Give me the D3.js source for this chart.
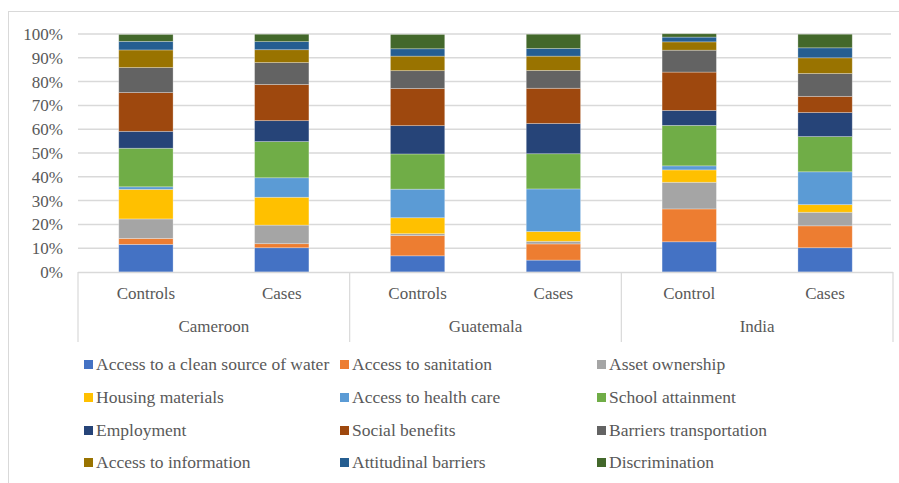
<!DOCTYPE html>
<html><head><meta charset="utf-8">
<script src="https://cdn.jsdelivr.net/npm/d3@7"></script>
<style>body{margin:0;background:#fff}svg{display:block}</style>
</head><body>
<script>
const countries = ["Cameroon","Guatemala","India"];
const groups = ["Controls","Cases","Controls","Cases","Control","Cases"];
const seriesNames = ["Access to a clean source of water","Access to sanitation","Asset ownership","Housing materials","Access to health care","School attainment","Employment","Social benefits","Barriers transportation","Access to information","Attitudinal barriers","Discrimination"];
const seriesColors = ["#4472C4","#ED7D31","#A5A5A5","#FFC000","#5B9BD5","#70AD47","#264478","#9E480E","#636363","#997300","#255E91","#43682B"];
// values per bar (percent), in series order
const cameroonControls = [11.6,2.5,8.2,12.4,1.1,16.2,7.1,16.3,10.5,7.4,3.6,2.9];
const cameroonCases    = [10.2,1.7,7.8,11.7,8.2,15.2,8.8,15.2,9.2,5.4,3.4,3.1];
const guatemalaControls= [6.8,8.5,0.8,6.7,12.0,14.8,11.9,15.6,7.5,6.1,3.1,6.0];
const guatemalaCases   = [5.0,6.8,1.1,4.1,17.9,14.8,12.7,14.8,7.5,6.0,3.2,6.0];
const indiaControl     = [12.7,13.8,11.2,5.2,1.7,17.0,6.3,16.1,9.2,3.5,2.0,1.4];
const indiaCases       = [10.2,9.2,5.7,3.2,13.8,14.8,10.1,6.8,9.6,6.6,4.2,5.7];
const barValues = [cameroonControls,cameroonCases,guatemalaControls,guatemalaCases,indiaControl,indiaCases];
const yTicks = [0,10,20,30,40,50,60,70,80,90,100];

const FONT = '"Liberation Serif"';
const FS = "17px";
const W=899,H=483;
const svg=d3.select("body").append("svg").attr("width",W).attr("height",H);
svg.append("rect").attr("x",8.5).attr("y",11.5).attr("width",W).attr("height",H).attr("fill","none").attr("stroke","#d9d9d9");

const x0=78,x1=893,yTop=34,yBot=272;
const x=d3.scaleBand().domain(d3.range(6)).range([x0,x1]).paddingInner(0.6).paddingOuter(0.3);
const y=d3.scaleLinear().domain([0,100]).range([yBot,yTop]);

svg.append("g").selectAll("line").data(yTicks.filter(d=>d>0)).join("line")
 .attr("x1",x0).attr("x2",891).attr("y1",d=>y(d)).attr("y2",d=>y(d))
 .attr("stroke","#d9d9d9").attr("stroke-width",1.5);

const yAxis=d3.axisLeft(y).tickValues(yTicks).tickFormat(d=>d+"%").tickSize(0).tickPadding(0);
const ya=svg.append("g").attr("transform",`translate(63,0)`).call(yAxis);
ya.attr("font-family",null).attr("font-size",null);
ya.select(".domain").remove();
ya.selectAll("text").style("font-family",FONT).style("font-size",FS).attr("fill","#595959");

const stackData = barValues.map((vals,i)=>{const o={i};seriesNames.forEach((s,k)=>o[s]=vals[k]);return o;});
const stacked=d3.stack().keys(seriesNames)(stackData);
svg.append("g").selectAll("g").data(stacked).join("g")
 .attr("fill",(d,k)=>seriesColors[k])
 .selectAll("rect").data(d=>d).join("rect")
 .attr("x",d=>x(d.data.i)).attr("width",x.bandwidth())
 .attr("y",d=>y(d[1])).attr("height",d=>y(d[0])-y(d[1]))
 .attr("stroke","#ffffff").attr("stroke-opacity",0.35).attr("stroke-width",0.8);

const ax=svg.append("g");
ax.append("line").attr("x1",x0).attr("x2",x1).attr("y1",yBot+0.5).attr("y2",yBot+0.5).attr("stroke","#d9d9d9").attr("stroke-width",1.5);
const groupW=(x1-x0)/3;
[0,1,2,3].forEach(k=>{
  const xx=x0+k*groupW;
  ax.append("line").attr("x1",xx).attr("x2",xx).attr("y1",yBot).attr("y2",342).attr("stroke","#d9d9d9").attr("stroke-width",1.2);
});
ax.selectAll("text.grp").data(groups).join("text").attr("class","grp")
 .attr("x",(d,i)=>x(i)+x.bandwidth()/2).attr("y",299).attr("text-anchor","middle")
 .style("font-family",FONT).style("font-size",FS).attr("fill","#595959").text(d=>d);
ax.selectAll("text.cty").data(countries).join("text").attr("class","cty")
 .attr("x",(d,i)=>x0+(i+0.5)*groupW).attr("y",332).attr("text-anchor","middle")
 .style("font-family",FONT).style("font-size",FS).attr("fill","#595959").text(d=>d);

const colX=[84,340,597], rowY=[365,398,431,463];
const lg=svg.append("g");
seriesNames.forEach((s,k)=>{
  const cx=colX[k%3], cy=rowY[Math.floor(k/3)];
  lg.append("rect").attr("x",cx).attr("y",cy-5).attr("width",9).attr("height",9).attr("fill",seriesColors[k]);
  lg.append("text").attr("x",cx+12).attr("y",cy+5).style("font-family",FONT).style("font-size","17.5px").attr("fill","#595959").text(s);
});
</script>
</body></html>
